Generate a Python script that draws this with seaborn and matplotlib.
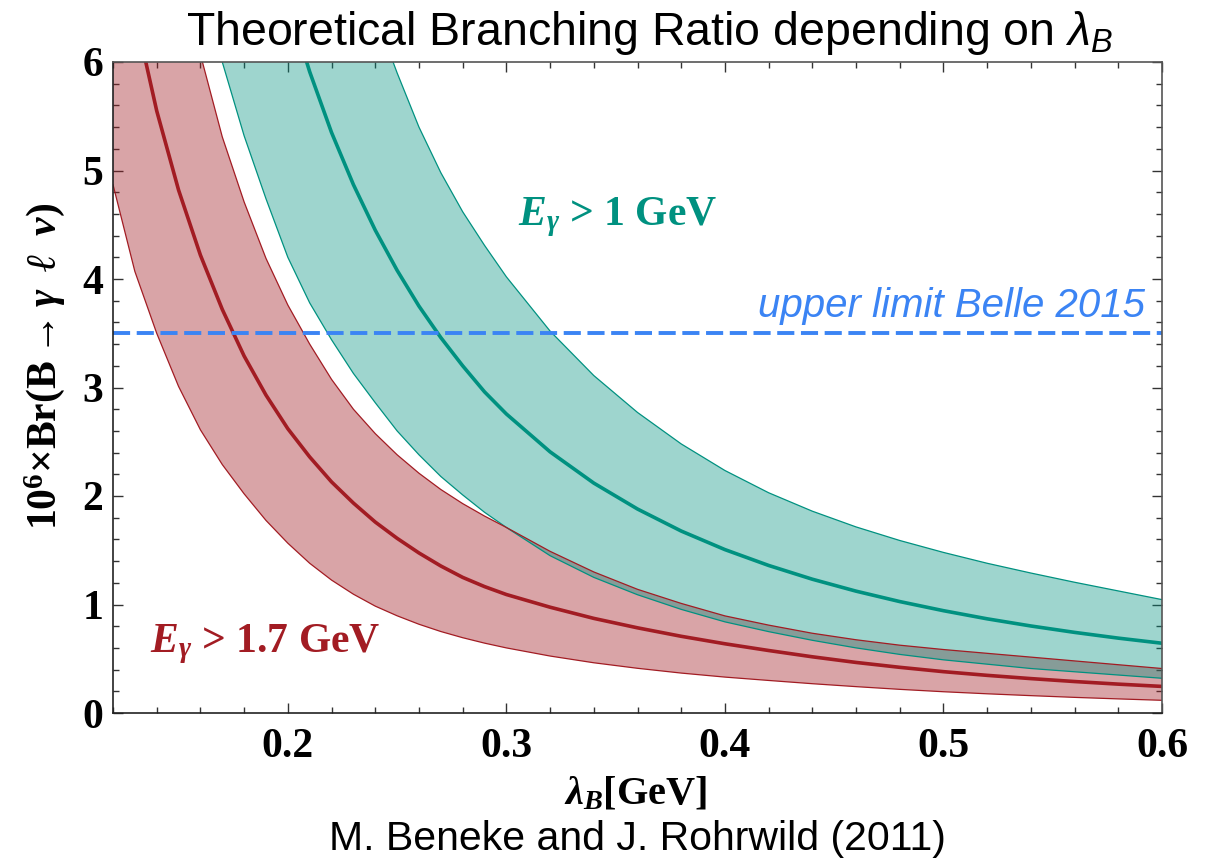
import numpy as np
import pandas as pd
import matplotlib
matplotlib.use("Agg")
import matplotlib.pyplot as plt
from matplotlib.ticker import MultipleLocator
import seaborn as sns

# values
lam_red = [0.12, 0.13, 0.14, 0.15, 0.16, 0.17, 0.18, 0.19, 0.20, 0.21, 0.22,
           0.23, 0.24, 0.25, 0.26, 0.27, 0.28, 0.29, 0.30, 0.32, 0.34, 0.36,
           0.38, 0.40, 0.42, 0.44, 0.46, 0.48, 0.50, 0.52, 0.54, 0.56, 0.58, 0.60]
red_low = [4.87, 4.07, 3.50, 3.01, 2.61, 2.29, 2.02, 1.775, 1.565, 1.38, 1.225,
           1.095, 0.985, 0.896, 0.818, 0.751, 0.694, 0.644, 0.60, 0.525, 0.463, 0.412,
           0.368, 0.331, 0.300, 0.270, 0.243, 0.218, 0.196, 0.177, 0.160, 0.144, 0.130, 0.117]
red_mid = [7.6, 6.45, 5.55, 4.82, 4.22, 3.72, 3.29, 2.93, 2.62, 2.36, 2.13,
           1.935, 1.76, 1.61, 1.475, 1.355, 1.25, 1.165, 1.092, 0.975, 0.872, 0.785,
           0.707, 0.638, 0.576, 0.518, 0.466, 0.421, 0.381, 0.347, 0.317, 0.290, 0.266, 0.245]
red_up = [11.1, 9.38, 8.02, 6.92, 6.07, 5.31, 4.71, 4.19, 3.76, 3.40, 3.075,
          2.80, 2.575, 2.38, 2.21, 2.06, 1.93, 1.815, 1.71, 1.49, 1.30, 1.14,
          1.01, 0.895, 0.81, 0.735, 0.675, 0.625, 0.585, 0.55, 0.515, 0.48, 0.445, 0.41]

lam_teal = [0.16, 0.17, 0.18, 0.19, 0.20, 0.21, 0.22, 0.23, 0.24, 0.25, 0.26,
            0.27, 0.28, 0.29, 0.30, 0.32, 0.34, 0.36, 0.38, 0.40, 0.42, 0.44,
            0.46, 0.48, 0.50, 0.52, 0.54, 0.56, 0.58, 0.60]
teal_low = [6.81, 6.0, 5.32, 4.74, 4.2, 3.78, 3.44, 3.13, 2.86, 2.60, 2.38,
            2.18, 2.01, 1.85, 1.71, 1.45, 1.25, 1.09, 0.955, 0.84, 0.75, 0.67,
            0.60, 0.54, 0.49, 0.45, 0.41, 0.38, 0.35, 0.32]
teal_mid = [10.54, 9.27, 8.21, 7.32, 6.56, 5.91, 5.35, 4.87, 4.45, 4.08, 3.75,
            3.46, 3.20, 2.96, 2.756, 2.407, 2.119, 1.88, 1.677, 1.506, 1.36, 1.233,
            1.123, 1.027, 0.943, 0.868, 0.802, 0.743, 0.69, 0.643]
teal_up = [14.4, 12.77, 11.39, 10.22, 9.23, 8.37, 7.62, 7.02, 6.44, 5.90, 5.40,
           4.98, 4.62, 4.31, 4.02, 3.52, 3.11, 2.77, 2.48, 2.235, 2.03, 1.86,
           1.715, 1.59, 1.48, 1.38, 1.29, 1.205, 1.125, 1.045]

belle_limit = 3.5

xticks = [0.2, 0.3, 0.4, 0.5, 0.6]
xtick_labels = ["0.2", "0.3", "0.4", "0.5", "0.6"]
yticks = [0, 1, 2, 3, 4, 5, 6]
ytick_labels = ["0", "1", "2", "3", "4", "5", "6"]

RED = "#a21c23"
TEAL = "#009180"
BLUE = "#3b84f4"

sns.set_theme(style="ticks")
plt.rcParams["font.family"] = ["Liberation Serif", "DejaVu Serif"]
plt.rcParams["text.color"] = "black"
plt.rcParams["mathtext.fontset"] = "custom"
plt.rcParams["mathtext.rm"] = "Liberation Serif:bold"
plt.rcParams["mathtext.bf"] = "Liberation Serif:bold"
plt.rcParams["mathtext.it"] = "Liberation Serif:italic:bold"
plt.rcParams["mathtext.sf"] = "Liberation Sans:italic"

red_df = pd.DataFrame({"lam": lam_red, "low": red_low, "mid": red_mid, "up": red_up})
teal_df = pd.DataFrame({"lam": lam_teal, "low": teal_low, "mid": teal_mid, "up": teal_up})

fig = plt.figure(figsize=(12.11, 8.59), dpi=100)
ax = fig.add_axes([113 / 1211, 1 - 713 / 859, 1049 / 1211, 651 / 859])

# bands
ax.fill_between(red_df["lam"], red_df["low"], red_df["up"], color=RED, alpha=0.4, lw=0)
ax.fill_between(teal_df["lam"], teal_df["low"], teal_df["up"], color=TEAL, alpha=0.38, lw=0)
for col in ["low", "up"]:
    sns.lineplot(data=red_df, x="lam", y=col, ax=ax, color=RED, lw=0.9)
    sns.lineplot(data=teal_df, x="lam", y=col, ax=ax, color=TEAL, lw=0.9)
sns.lineplot(data=red_df, x="lam", y="mid", ax=ax, color=RED, lw=2.6)
sns.lineplot(data=teal_df, x="lam", y="mid", ax=ax, color=TEAL, lw=2.6)

ax.axhline(belle_limit, color=BLUE, lw=2.8, dashes=(4.4, 1.7))

ax.set_xlim(0.12, 0.6)
ax.set_ylim(0, 6)
ax.set_xlabel("")
ax.set_ylabel("")

ax.set_xticks(xticks, xtick_labels)
ax.set_yticks(yticks, ytick_labels)
ax.xaxis.set_minor_locator(MultipleLocator(0.02))
ax.yaxis.set_minor_locator(MultipleLocator(0.2))
ax.tick_params(which="both", direction="in", top=True, right=True,
               color="#333333", width=1.0)
ax.tick_params(which="major", length=7)
ax.tick_params(which="minor", length=4)
ax.tick_params(axis="x", which="major", pad=11)
ax.tick_params(axis="y", which="major", pad=7)
for lab in ax.get_xticklabels() + ax.get_yticklabels():
    lab.set_fontsize(30)
    lab.set_fontweight("bold")
    lab.set_color("black")

for side in ["left", "bottom"]:
    ax.spines[side].set_color("#222222")
    ax.spines[side].set_linewidth(1.2)
for side in ["top", "right"]:
    ax.spines[side].set_color("#555555")
    ax.spines[side].set_linewidth(1.2)

# annotations
ax.text(0.137, 0.63, r"$E_\gamma$ > 1.7 GeV", color=RED, fontsize=30,
        fontweight="bold", ha="left", va="center")
ax.text(0.3053, 4.57, r"$E_\gamma$ > 1 GeV", color=TEAL, fontsize=30,
        fontweight="bold", ha="left", va="center")
ax.text(0.592, 3.65, "upper limit Belle 2015", color=BLUE, fontsize=29,
        style="italic", family=["Liberation Sans", "DejaVu Sans"],
        ha="right", va="baseline")

fig.text(650 / 1211, 1 - 45 / 859, r"Theoretical Branching Ratio depending on $\mathsf{\lambda_B}$",
         family=["Liberation Sans", "DejaVu Sans"], fontsize=33.5, ha="center", va="baseline")
fig.text(636 / 1211, 1 - 795 / 859, r"$\lambda_B$[GeV]", fontsize=29,
         fontweight="bold", ha="center", va="center")
fig.text(637 / 1211, 1 - 850 / 859, "M. Beneke and J. Rohrwild (2011)",
         family=["Liberation Sans", "DejaVu Sans"], fontsize=29.5, ha="center", va="baseline")
fig.text(45 / 1211, 1 - 366 / 859, r"$\mathrm{10^6}$×Br(B$\rightarrow\gamma\;\;\ell\;\;\nu$)",
         fontsize=30, fontweight="bold", rotation=90, ha="center", va="center")

fig.savefig("out.png", dpi=100)
